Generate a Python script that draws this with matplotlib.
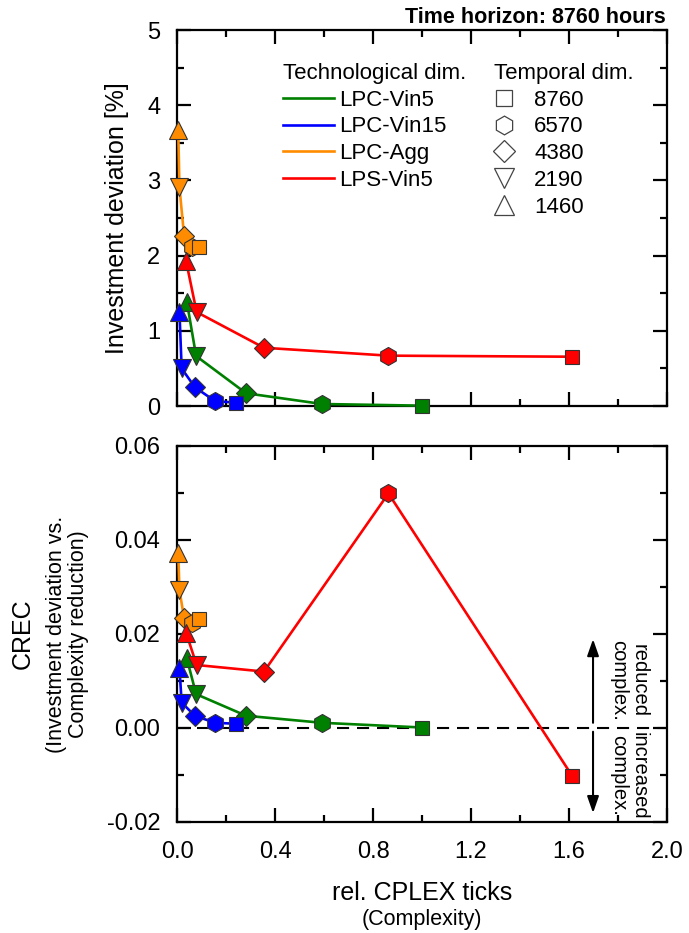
import matplotlib
matplotlib.use("Agg")
import matplotlib.pyplot as plt
from matplotlib.lines import Line2D
from matplotlib.ticker import MultipleLocator, FormatStrFormatter

plt.rcParams['font.family'] = ['Liberation Sans', 'DejaVu Sans']
plt.rcParams['axes.unicode_minus'] = False

# temporal dimension of each point (order of points in every series)
temporal = ['1460', '2190', '4380', '6570', '8760']
markers = ['^', 'v', 'D', 'h', 's']
marker_sizes = [13, 13, 10, 13, 10.3]

series = ['LPC-Vin5', 'LPC-Vin15', 'LPC-Agg', 'LPS-Vin5']
colors = ['#008000', '#0000ff', '#ff8c00', '#ff0000']

# rel. CPLEX ticks (complexity)
ticks_vin5 = [0.040, 0.078, 0.282, 0.593, 1.000]
ticks_vin15 = [0.010, 0.019, 0.073, 0.155, 0.241]
ticks_agg = [0.005, 0.010, 0.029, 0.062, 0.090]
ticks_lps = [0.037, 0.080, 0.355, 0.863, 1.613]

# investment deviation [%]
dev_vin5 = [1.39, 0.665, 0.17, 0.027, 0.005]
dev_vin15 = [1.25, 0.50, 0.25, 0.066, 0.045]
dev_agg = [3.67, 2.91, 2.26, 2.12, 2.12]
dev_lps = [1.93, 1.25, 0.775, 0.67, 0.656]

# CREC
crec_vin5 = [0.0148, 0.0072, 0.0026, 0.0011, 0.0001]
crec_vin15 = [0.0127, 0.0054, 0.0026, 0.0011, 0.0009]
crec_agg = [0.0372, 0.0294, 0.0233, 0.0224, 0.0232]
crec_lps = [0.0203, 0.0134, 0.0120, 0.0499, -0.0102]

xs = [ticks_vin5, ticks_vin15, ticks_agg, ticks_lps]
devs = [dev_vin5, dev_vin15, dev_agg, dev_lps]
crecs = [crec_vin5, crec_vin15, crec_agg, crec_lps]

LBL = 17


def style_axis(ax):
    ax.set_xlim(0, 2)
    ax.xaxis.set_major_locator(MultipleLocator(0.4))
    ax.xaxis.set_minor_locator(MultipleLocator(0.2))
    ax.tick_params(which='both', direction='in', top=True, right=True, width=1.6)
    ax.tick_params(which='major', length=10)
    ax.tick_params(which='minor', length=5)
    ax.tick_params(axis='y', labelsize=LBL, pad=12)
    ax.tick_params(axis='x', labelsize=LBL, pad=14)
    for s in ax.spines.values():
        s.set_linewidth(1.6)


def draw_series(ax, x, y, color, z):
    ax.plot(x, y, color=color, lw=1.9, zorder=z, clip_on=False)
    for xi, yi, m, ms in zip(x, y, markers, marker_sizes):
        ax.plot(xi, yi, ls='none', marker=m, ms=ms, mfc=color, mec='#333333',
                mew=0.8, zorder=z + 0.5, clip_on=False)


fig = plt.figure(figsize=(6.89, 9.33), dpi=100)
ax1 = fig.add_axes([0.2569, 0.5648, 0.7112, 0.403])
ax2 = fig.add_axes([0.2569, 0.119, 0.7112, 0.403])

for i in range(4):
    draw_series(ax1, xs[i], devs[i], colors[i], 3 + i)
    draw_series(ax2, xs[i], crecs[i], colors[i], 3 + i)

# top panel
style_axis(ax1)
ax1.set_ylim(0, 5)
ax1.yaxis.set_major_locator(MultipleLocator(1))
ax1.yaxis.set_minor_locator(MultipleLocator(0.5))
ax1.tick_params(axis='x', labelbottom=False)
ax1.text(-0.1224, 0.5, 'Investment deviation [%]', transform=ax1.transAxes,
         rotation=90, ha='center', va='center', fontsize=18)

tech_handles = [Line2D([], [], color=c, lw=1.9) for c in colors]
leg1 = ax1.legend(tech_handles, series, title='Technological dim.', loc='upper left',
                  bbox_to_anchor=(0.216, 0.913), frameon=False, fontsize=16,
                  title_fontsize=16, alignment='left', borderpad=0, borderaxespad=0,
                  labelspacing=0.26, handlelength=2.3, handletextpad=0.25)
ax1.add_artist(leg1)

legend_order = [4, 3, 2, 1, 0]
leg_sizes = [14, 14, 11, 13.5, 11.5]
temp_handles = [Line2D([], [], ls='none', marker=markers[k], ms=leg_sizes[k], mfc='white',
                       mec='#444444', mew=0.9) for k in legend_order]
ax1.legend(temp_handles, [temporal[k] for k in legend_order], title='Temporal dim.',
           loc='upper left', bbox_to_anchor=(0.647, 0.913), frameon=False, fontsize=16,
           title_fontsize=16, alignment='left', borderpad=0, borderaxespad=0,
           labelspacing=0.26, handlelength=0.9, handletextpad=0.9)

# lower panel
style_axis(ax2)
ax2.set_ylim(-0.02, 0.06)
ax2.yaxis.set_major_locator(MultipleLocator(0.02))
ax2.yaxis.set_minor_locator(MultipleLocator(0.01))
ax2.yaxis.set_major_formatter(FormatStrFormatter('%.2f'))
ax2.xaxis.set_major_formatter(FormatStrFormatter('%.1f'))
ax2.axhline(0, color='black', lw=1.5, dashes=(5.8, 3.8), zorder=2)

ax2.annotate('', xy=(1.698, 0.0189), xytext=(1.698, 0.0011),
             arrowprops=dict(arrowstyle='-|>,head_length=1.0,head_width=0.35',
                             color='black', lw=1.5, shrinkA=0, shrinkB=0))
ax2.annotate('', xy=(1.698, -0.0181), xytext=(1.698, -0.0008),
             arrowprops=dict(arrowstyle='-|>,head_length=1.0,head_width=0.35',
                             color='black', lw=1.5, shrinkA=0, shrinkB=0))
ax2.text(1.843, 0.0187, 'reduced\ncomplex.', rotation=-90, ha='center', va='top',
         fontsize=14.5, linespacing=1.1)
ax2.text(1.843, -0.0008, 'increased\ncomplex.', rotation=-90, ha='center', va='top',
         fontsize=14.5, linespacing=1.1)

ax2.text(-0.314, 0.5, 'CREC', transform=ax2.transAxes, rotation=90,
         ha='center', va='center', fontsize=18)
ax2.text(-0.2235, 0.5, '(Investment deviation vs.\nComplexity reduction)',
         transform=ax2.transAxes, rotation=90, ha='center', va='center',
         fontsize=15.5, linespacing=1.1)

fig.text(0.6125, 1 - 900 / 933, 'rel. CPLEX ticks', ha='center', va='baseline', fontsize=18)
fig.text(0.6125, 1 - 925 / 933, '(Complexity)', ha='center', va='baseline', fontsize=15.5)
fig.text(666 / 689, 1 - 23 / 933, 'Time horizon: 8760 hours', ha='right', va='baseline',
         fontsize=15.5, fontweight='bold')

fig.savefig('out.png', dpi=100)
